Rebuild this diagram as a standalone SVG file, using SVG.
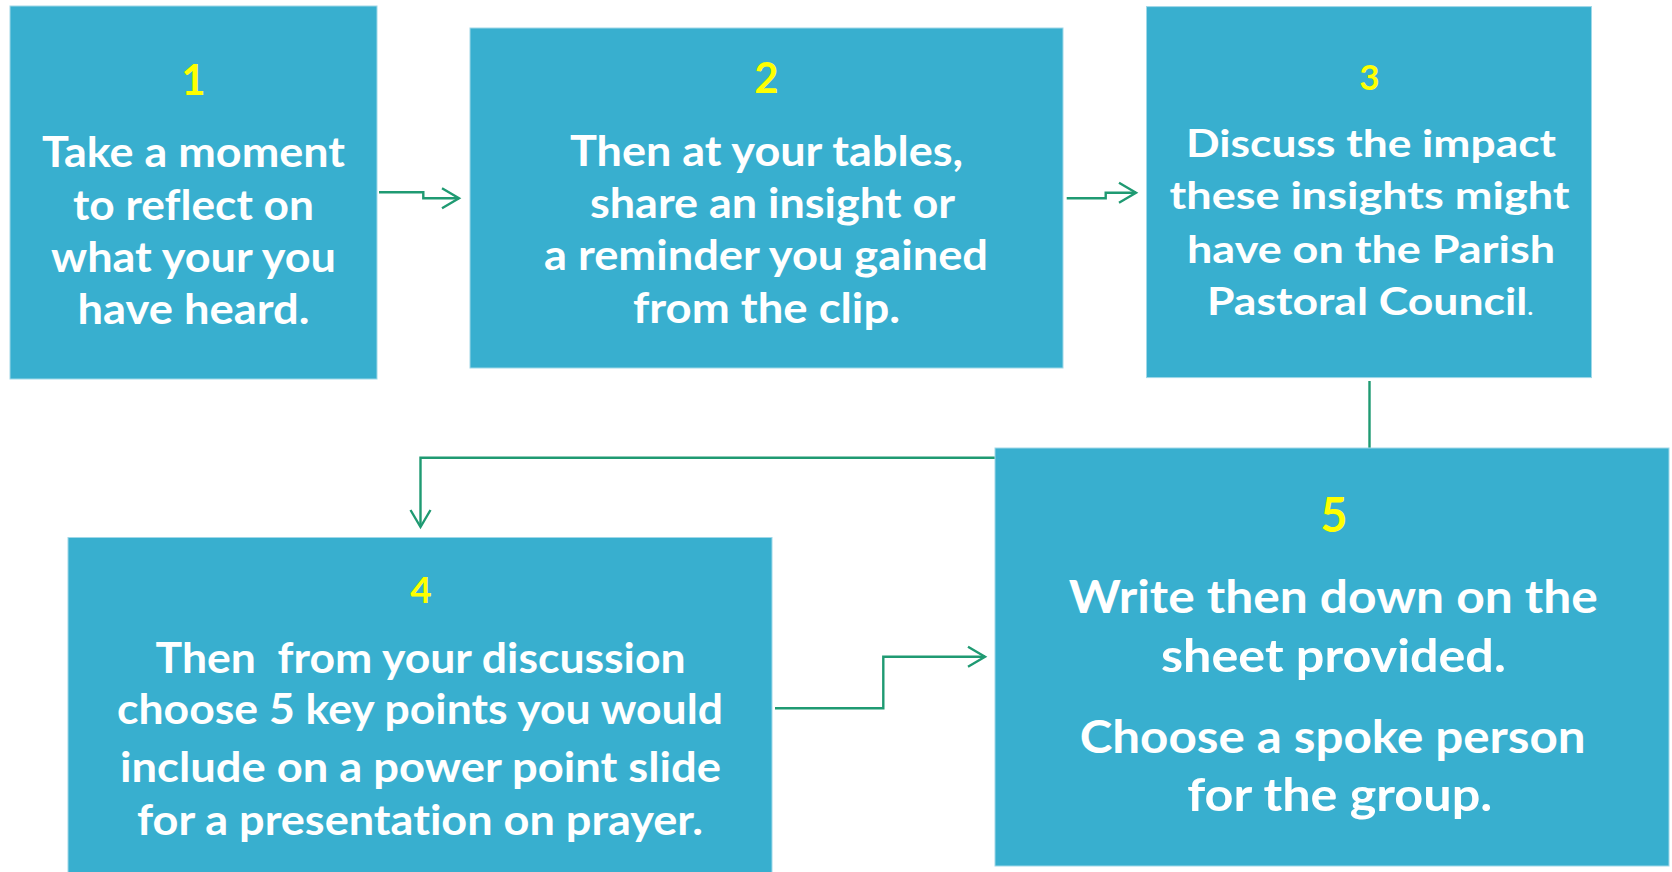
<svg xmlns="http://www.w3.org/2000/svg" width="1672" height="872" viewBox="0 0 1672 872">
<style>
.box{fill:#38AFCF;stroke:#9fd8e8;stroke-width:1}
.t{font-family:Lato,"Open Sans","Liberation Sans",sans-serif;font-weight:bold;fill:#FFFFFF;text-anchor:middle;font-variant-ligatures:none;font-feature-settings:"liga" 0}
.n{font-family:Lato,"Open Sans","Liberation Sans",sans-serif;font-weight:bold;fill:#FFFF00;text-anchor:middle}
.c{fill:none;stroke:#1F9A72;stroke-width:2.4}
</style>
<defs>
<marker id="arr" markerUnits="userSpaceOnUse" viewBox="-20 -12 24 24" markerWidth="24" markerHeight="24" refX="0" refY="0" orient="auto">
<path d="M-17,-10 L0,0 L-17,10" fill="none" stroke="#1F9A72" stroke-width="2.4"/>
</marker>
</defs>
<rect width="1672" height="872" fill="#FFFFFF"/>
<g id="connectors">
<path class="c" d="M379,192.3 H423.3 V198.3 H459" marker-end="url(#arr)"/>
<path class="c" d="M1066.7,198.3 H1105.7 V192.7 H1136" marker-end="url(#arr)"/>
<path class="c" d="M1369.5,381 V457.7 H420.5 V527" marker-end="url(#arr)"/>
<path class="c" d="M775,708.3 H883.3 V656.7 H985" marker-end="url(#arr)"/>
</g>
<g id="node1">
<rect class="box" x="10" y="6" width="367" height="373"/>
<text class="n" x="193.5" y="95" font-size="42">1</text>
<text class="t" x="193.5" y="167" font-size="42" textLength="303" lengthAdjust="spacingAndGlyphs">Take a moment</text>
<text class="t" x="193.5" y="220" font-size="42" textLength="241" lengthAdjust="spacingAndGlyphs">to reflect on</text>
<text class="t" x="193.5" y="272" font-size="42" textLength="285" lengthAdjust="spacingAndGlyphs">what your you</text>
<text class="t" x="193.5" y="324" font-size="42" textLength="232" lengthAdjust="spacingAndGlyphs">have heard.</text>
</g>
<g id="node2">
<rect class="box" x="470" y="28" width="593" height="340"/>
<text class="n" x="766.5" y="93" font-size="42">2</text>
<text class="t" x="766.5" y="166" font-size="42" textLength="393" lengthAdjust="spacingAndGlyphs">Then at your tables,</text>
<text class="t" x="772.5" y="217.7" font-size="42" textLength="365" lengthAdjust="spacingAndGlyphs">share an insight or</text>
<text class="t" x="766" y="270" font-size="42" textLength="444" lengthAdjust="spacingAndGlyphs">a reminder you gained</text>
<text class="t" x="766.5" y="322.7" font-size="42" textLength="267" lengthAdjust="spacingAndGlyphs">from the clip.</text>
</g>
<g id="node3">
<rect class="box" x="1146.5" y="6.6" width="445" height="371"/>
<text class="n" x="1369.4" y="90" font-size="35">3</text>
<text class="t" x="1371" y="156.7" font-size="38" textLength="370" lengthAdjust="spacingAndGlyphs">Discuss the impact</text>
<text class="t" x="1369.5" y="209.3" font-size="38" textLength="400" lengthAdjust="spacingAndGlyphs">these insights might</text>
<text class="t" x="1371" y="262.7" font-size="38" textLength="368" lengthAdjust="spacingAndGlyphs">have on the Parish</text>
<text class="t" x="1370" y="315" font-size="38" textLength="326" lengthAdjust="spacingAndGlyphs">Pastoral Council<tspan font-size="20">.</tspan></text>
</g>
<g id="node4">
<rect class="box" x="68" y="537.5" width="704" height="340"/>
<text class="n" x="421" y="603" font-size="37">4</text>
<text class="t" x="420.6" y="673" font-size="42" textLength="530" lengthAdjust="spacingAndGlyphs" xml:space="preserve">Then  from your discussion</text>
<text class="t" x="420" y="724" font-size="42" textLength="606" lengthAdjust="spacingAndGlyphs">choose 5 key points you would</text>
<text class="t" x="420.5" y="782" font-size="42" textLength="601" lengthAdjust="spacingAndGlyphs">include on a power point slide</text>
<text class="t" x="420" y="835" font-size="42" textLength="566" lengthAdjust="spacingAndGlyphs">for a presentation on prayer.</text>
</g>
<g id="node5">
<rect class="box" x="995" y="448" width="674" height="418"/>
<text class="n" x="1334" y="532" font-size="47">5</text>
<text class="t" x="1333.3" y="612.7" font-size="46" textLength="529" lengthAdjust="spacingAndGlyphs">Write then down on the</text>
<text class="t" x="1333.4" y="671.7" font-size="46" textLength="345" lengthAdjust="spacingAndGlyphs">sheet provided.</text>
<text class="t" x="1332.7" y="752.7" font-size="46" textLength="506" lengthAdjust="spacingAndGlyphs">Choose a spoke person</text>
<text class="t" x="1339.7" y="811" font-size="46" textLength="305" lengthAdjust="spacingAndGlyphs">for the group.</text>
</g>
</svg>
